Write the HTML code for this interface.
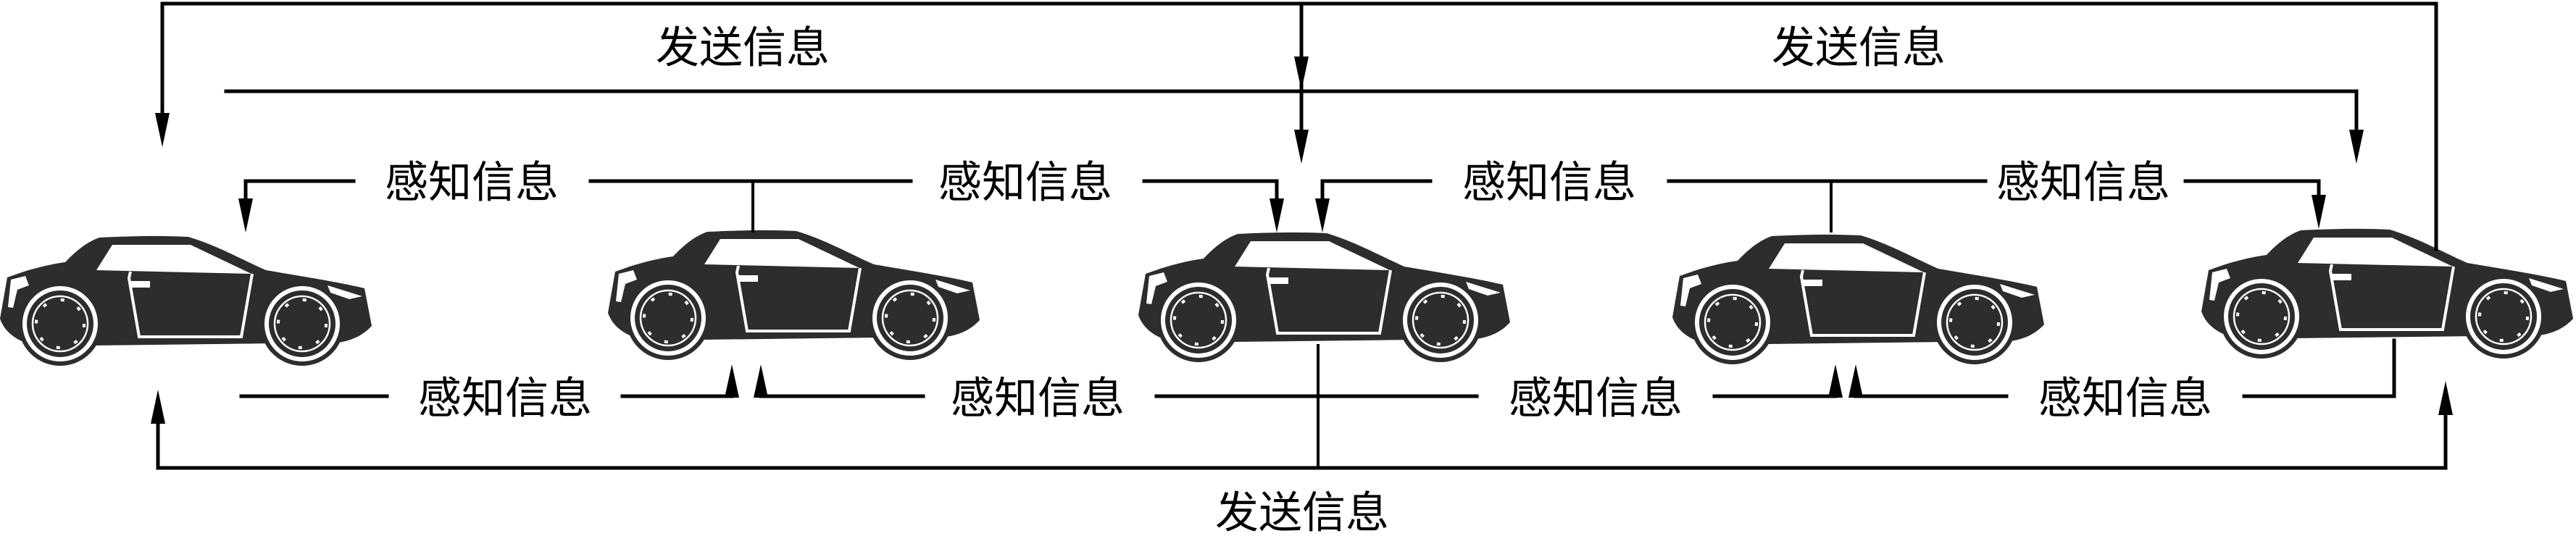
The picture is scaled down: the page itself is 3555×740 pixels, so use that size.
<!DOCTYPE html>
<html><head><meta charset="utf-8">
<style>
html,body{margin:0;padding:0;background:#fff;}
svg{display:block;}
text{font-family:"Liberation Sans","Noto Sans CJK SC","WenQuanYi Zen Hei",sans-serif;font-size:60px;fill:#000;text-anchor:middle;dominant-baseline:central;}
</style></head>
<body>
<svg width="3555" height="740" viewBox="0 0 3555 740" xmlns="http://www.w3.org/2000/svg">
<defs>
<g id="car">
  <path d="M10,59 L30,52 C55,44 75,40 90,38 C105,22 120,10 137,4 C180,2 220,1 260,3 C300,15 335,35 367,49 C420,58 470,66 503,74 L513,126 C500,140 485,146 467,149 L130,153 L30,147 C15,140 5,130 0,116 Z" fill="#2d2d2d"/>
  <polygon points="155,14 263,14 347,54 133,49" fill="#fff"/>
  <polyline points="180,51 178,60 192,141 333,141 348,54" fill="none" stroke="#fff" stroke-width="4"/>
  <rect x="180" y="64" width="27" height="9" fill="#fff"/>
  <polygon points="452,70 500,85 482,89 456,80" fill="#fff"/>
  <polygon points="15,62 35,57 40,70 24,76 18,101 11,100" fill="#fff"/>
  <g>
    <circle cx="83" cy="123" r="58" fill="#2d2d2d"/>
    <circle cx="83" cy="123" r="49" fill="none" stroke="#fff" stroke-width="6"/>
    <circle cx="83" cy="123" r="38" fill="none" stroke="#fff" stroke-width="2.5"/>
    <circle cx="83" cy="123" r="33" fill="#2d2d2d" stroke="#fff" stroke-width="4" stroke-dasharray="5 21"/>
  </g>
  <g>
    <circle cx="417" cy="123" r="58" fill="#2d2d2d"/>
    <circle cx="417" cy="123" r="49" fill="none" stroke="#fff" stroke-width="6"/>
    <circle cx="417" cy="123" r="38" fill="none" stroke="#fff" stroke-width="2.5"/>
    <circle cx="417" cy="123" r="33" fill="#2d2d2d" stroke="#fff" stroke-width="4" stroke-dasharray="5 21"/>
  </g>
</g>
</defs>

<!-- cars -->
<use href="#car" x="0" y="324"/>
<use href="#car" x="839" y="316"/>
<use href="#car" x="1571" y="319"/>
<use href="#car" x="2308" y="322"/>
<use href="#car" x="3038" y="314"/>

<g stroke="#000" stroke-width="5" fill="none" stroke-linecap="square">
  <polyline points="224,160 224,5 3362,5 3362,344"/>
  <line x1="1796" y1="5" x2="1796" y2="185"/>
  <polyline points="312,126 3252,126 3252,185"/>
  <polyline points="339,280 339,250 488,250"/>
  <line x1="815" y1="250" x2="1257" y2="250"/>
  <line x1="1039" y1="250" x2="1039" y2="319" stroke-width="4"/>
  <polyline points="1579,250 1762,250 1762,280"/>
  <polyline points="1825,280 1825,250 1974,250"/>
  <line x1="2303" y1="250" x2="2740" y2="250"/>
  <line x1="2527" y1="250" x2="2527" y2="319" stroke-width="4"/>
  <polyline points="3016,250 3200,250 3200,275"/>
  <line x1="333" y1="547" x2="534" y2="547"/>
  <line x1="859" y1="547" x2="1010" y2="547"/>
  <line x1="1050" y1="547" x2="1274" y2="547"/>
  <line x1="1596" y1="547" x2="2038" y2="547"/>
  <line x1="2366" y1="547" x2="2533" y2="547"/>
  <line x1="2561" y1="547" x2="2769" y2="547"/>
  <polyline points="3097,547 3304,547 3304,470"/>
  <line x1="1819" y1="477" x2="1819" y2="646" stroke-width="4"/>
  <polyline points="218,580 218,646 3375,646 3375,570"/>
</g>

<g fill="#000">
  <polygon points="214,156 234,156 224,203"/>
  <polygon points="1786,78 1806,78 1796,125"/>
  <polygon points="1786,179 1806,179 1796,226"/>
  <polygon points="3242,179 3262,179 3252,226"/>
  <polygon points="329,274 349,274 339,321"/>
  <polygon points="1752,274 1772,274 1762,321"/>
  <polygon points="1815,274 1835,274 1825,321"/>
  <polygon points="3190,269 3210,269 3200,316"/>
  <polygon points="1000,549 1020,549 1010,503"/>
  <polygon points="1040,549 1060,549 1050,503"/>
  <polygon points="2523,549 2543,549 2533,503"/>
  <polygon points="2551,549 2571,549 2561,503"/>
  <polygon points="208,585 228,585 218,538"/>
  <polygon points="3365,573 3385,573 3375,526"/>
</g>

<text x="1025" y="66">发送信息</text>
<text x="2565" y="66">发送信息</text>
<text x="1797" y="708">发送信息</text>

<text x="651" y="252">感知信息</text>
<text x="1415" y="252">感知信息</text>
<text x="2138" y="252">感知信息</text>
<text x="2875" y="252">感知信息</text>

<text x="697" y="550">感知信息</text>
<text x="1432" y="550">感知信息</text>
<text x="2202" y="550">感知信息</text>
<text x="2933" y="550">感知信息</text>
</svg>
</body></html>
